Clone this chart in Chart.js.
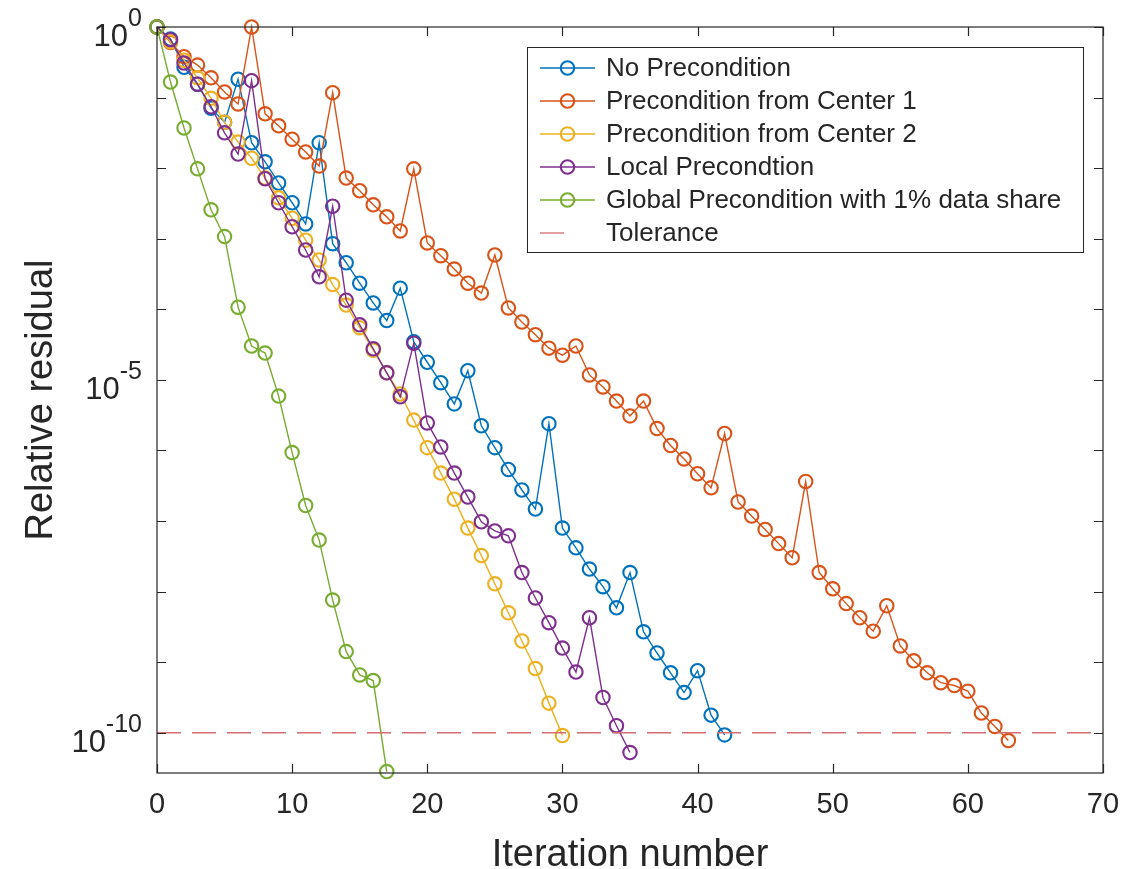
<!DOCTYPE html>
<html>
<head>
<meta charset="utf-8">
<script src="https://cdn.jsdelivr.net/npm/chart.js@4.4.0/dist/chart.umd.min.js"></script>
<style>
html, body { margin: 0; padding: 0; background: #fff; }
#wrap { width: 1125px; height: 869px; }
</style>
</head>
<body>
<div id="wrap"><canvas id="myChart" width="1125" height="869"></canvas></div>
<script>
// residuals as log10 values, one per iteration starting at 0
var iterTicks = [0, 10, 20, 30, 40, 50, 60, 70];
var yTickExp = [0, -5, -10];
var yDecades = [0, -1, -2, -3, -4, -5, -6, -7, -8, -9, -10];

var noPrecondition = [0, -0.17, -0.57, -0.81, -1.15, -1.35, -0.74, -1.64, -1.91, -2.21,
  -2.49, -2.79, -1.64, -3.07, -3.34, -3.63, -3.91, -4.16, -3.70, -4.46,
  -4.75, -5.04, -5.34, -4.87, -5.65, -5.96, -6.27, -6.56, -6.83, -5.62,
  -7.10, -7.38, -7.68, -7.93, -8.23, -7.73, -8.57, -8.87, -9.15, -9.43,
  -9.12, -9.75, -10.03];
var fromCenter1 = [0, -0.22, -0.42, -0.54, -0.72, -0.92, -1.09, 0, -1.23, -1.40,
  -1.59, -1.77, -1.97, -0.93, -2.14, -2.32, -2.52, -2.69, -2.89, -2.01,
  -3.06, -3.24, -3.43, -3.63, -3.77, -3.23, -3.98, -4.18, -4.36, -4.55,
  -4.65, -4.52, -4.93, -5.10, -5.30, -5.51, -5.30, -5.69, -5.93, -6.12,
  -6.33, -6.53, -5.76, -6.73, -6.93, -7.12, -7.32, -7.52, -6.44, -7.73,
  -7.96, -8.17, -8.37, -8.56, -8.20, -8.77, -8.98, -9.15, -9.29, -9.33,
  -9.41, -9.72, -9.91, -10.11];
var fromCenter2 = [0, -0.21, -0.47, -0.72, -1.01, -1.35, -1.63, -1.86, -2.14, -2.42,
  -2.71, -3.02, -3.30, -3.65, -3.94, -4.26, -4.58, -4.90, -5.20, -5.57,
  -5.96, -6.32, -6.69, -7.10, -7.49, -7.89, -8.30, -8.70, -9.09, -9.58,
  -10.04];
var localPrec = [0, -0.18, -0.51, -0.81, -1.13, -1.50, -1.80, -0.76, -2.15, -2.49,
  -2.83, -3.16, -3.54, -2.54, -3.87, -4.22, -4.56, -4.90, -5.24, -4.48,
  -5.61, -5.95, -6.32, -6.66, -7.01, -7.14, -7.21, -7.73, -8.09, -8.44,
  -8.80, -9.14, -8.37, -9.50, -9.90, -10.28];
var globalPrec = [0, -0.78, -1.43, -2.01, -2.59, -2.97, -3.97, -4.52, -4.62, -5.23,
  -6.03, -6.78, -7.27, -8.12, -8.85, -9.18, -9.26, -10.55];
var tolerance = 1e-10;

var seriesNames = ['No Precondition', 'Precondition from Center 1', 'Precondition from Center 2',
  'Local Precondtion', 'Global Precondition with 1% data share', 'Tolerance'];
var seriesColors = ['#0072BD', '#D95319', '#EDB120', '#7E2F8E', '#77AC30', 'rgb(212,108,115)'];

var FONT = "'Liberation Sans', Arial, Helvetica, sans-serif";
var INK = '#262626';

function toPoints(logs) {
  return logs.map(function (v, i) { return { x: i, y: Math.pow(10, v) }; });
}

var allSeries = [noPrecondition, fromCenter1, fromCenter2, localPrec, globalPrec];
var datasets = allSeries.map(function (s, k) {
  return {
    label: seriesNames[k],
    data: toPoints(s),
    borderColor: seriesColors[k],
    backgroundColor: 'rgba(0,0,0,0)',
    borderWidth: 1.4,
    pointRadius: 6.7,
    pointBorderWidth: 2.1,
    pointBackgroundColor: 'rgba(0,0,0,0)',
    pointBorderColor: seriesColors[k],
    tension: 0,
    clip: false,
    order: 10 - k
  };
});
datasets.push({
  label: seriesNames[5],
  data: [{ x: 0, y: tolerance }, { x: 70, y: tolerance }],
  borderColor: seriesColors[5],
  borderWidth: 1.3,
  borderDash: [24, 11],
  pointRadius: 0,
  order: 1
});

var axesBox = {
  id: 'axesBox',
  afterDatasetsDraw: function (chart) {
    var ctx = chart.ctx, a = chart.chartArea;
    var xs = chart.scales.x, ys = chart.scales.y;
    ctx.save();
    ctx.strokeStyle = INK;
    ctx.lineWidth = 1.2;
    ctx.setLineDash([]);
    ctx.strokeRect(a.left, a.top, a.right - a.left, a.bottom - a.top);

    ctx.beginPath();
    iterTicks.forEach(function (t) {
      var px = Math.round(xs.getPixelForValue(t)) + 0.5;
      ctx.moveTo(px, a.bottom); ctx.lineTo(px, a.bottom - 9);
      ctx.moveTo(px, a.top); ctx.lineTo(px, a.top + 9);
    });
    yDecades.forEach(function (e) {
      var py = Math.round(ys.getPixelForValue(Math.pow(10, e))) + 0.5;
      ctx.moveTo(a.left, py); ctx.lineTo(a.left + 9, py);
      ctx.moveTo(a.right, py); ctx.lineTo(a.right - 9, py);
    });
    ctx.stroke();

    // y tick labels like 10^-5
    ctx.fillStyle = INK;
    ctx.textAlign = 'left';
    ctx.textBaseline = 'alphabetic';
    yTickExp.forEach(function (e) {
      var py = ys.getPixelForValue(Math.pow(10, e));
      var ex = e === 0 ? '0' : '-' + (-e);
      ctx.font = '25px ' + FONT;
      var ew = ctx.measureText(ex).width;
      ctx.font = '31px ' + FONT;
      var bw = ctx.measureText('10').width;
      var right = a.left - 15;
      ctx.fillText('10', right - ew - bw, py + 19);
      ctx.font = '25px ' + FONT;
      ctx.fillText(ex, right - ew, py - 1);
    });

    // axis titles
    ctx.font = '38px ' + FONT;
    ctx.textAlign = 'center';
    ctx.fillText('Iteration number', (a.left + a.right) / 2, 866);
    ctx.translate(52, (a.top + a.bottom) / 2);
    ctx.rotate(-Math.PI / 2);
    ctx.fillText('Relative residual', 0, 0);
    ctx.restore();
  },
  afterDraw: function (chart) {
    var ctx = chart.ctx, a = chart.chartArea;
    var w = 556, h = 205;
    var x0 = a.right - 20 - w, y0 = a.top + 20;
    ctx.save();
    ctx.fillStyle = '#fff';
    ctx.fillRect(x0, y0, w, h);
    ctx.strokeStyle = INK;
    ctx.lineWidth = 1;
    ctx.strokeRect(x0 + 0.5, y0 + 0.5, w, h);
    ctx.font = '26px ' + FONT;
    ctx.textBaseline = 'middle';
    chart.data.datasets.forEach(function (ds, k) {
      var cy = y0 + 21 + 33 * k;
      ctx.strokeStyle = ds.borderColor;
      ctx.lineWidth = ds.borderWidth;
      ctx.setLineDash([]);
      ctx.beginPath();
      if (ds.borderDash) {
        ctx.moveTo(x0 + 13, cy); ctx.lineTo(x0 + 37, cy);
      } else {
        ctx.moveTo(x0 + 13, cy); ctx.lineTo(x0 + 68, cy);
      }
      ctx.stroke();
      if (ds.pointRadius > 0) {
        ctx.lineWidth = ds.pointBorderWidth;
        ctx.beginPath();
        ctx.arc(x0 + 40.5, cy, ds.pointRadius, 0, Math.PI * 2);
        ctx.stroke();
      }
      ctx.fillStyle = INK;
      ctx.fillText(ds.label, x0 + 79, cy + 1);
    });
    ctx.restore();
  }
};

var ctx = document.getElementById('myChart').getContext('2d');
var chart = new Chart(ctx, {
  type: 'line',
  data: { datasets: datasets },
  options: {
    responsive: false,
    animation: false,
    devicePixelRatio: 1,
    layout: { padding: { top: 27, right: 22, left: 0, bottom: 0 } },
    plugins: { legend: { display: false }, tooltip: { enabled: false } },
    scales: {
      x: {
        type: 'linear',
        min: 0,
        max: 70,
        grid: { display: false, drawTicks: false },
        border: { display: false },
        ticks: {
          stepSize: 10,
          padding: 15,
          color: INK,
          maxRotation: 0,
          font: { family: FONT, size: 29 }
        },
        afterFit: function (scale) {
          scale.height = 96;
          scale.paddingLeft = 0;
          scale.paddingRight = 0;
        }
      },
      y: {
        type: 'logarithmic',
        min: Math.pow(10, -10.57),
        max: 1,
        grid: { display: false, drawTicks: false },
        border: { display: false },
        ticks: { display: false },
        afterFit: function (scale) { scale.width = 157; }
      }
    }
  },
  plugins: [axesBox]
});
</script>
</body>
</html>
